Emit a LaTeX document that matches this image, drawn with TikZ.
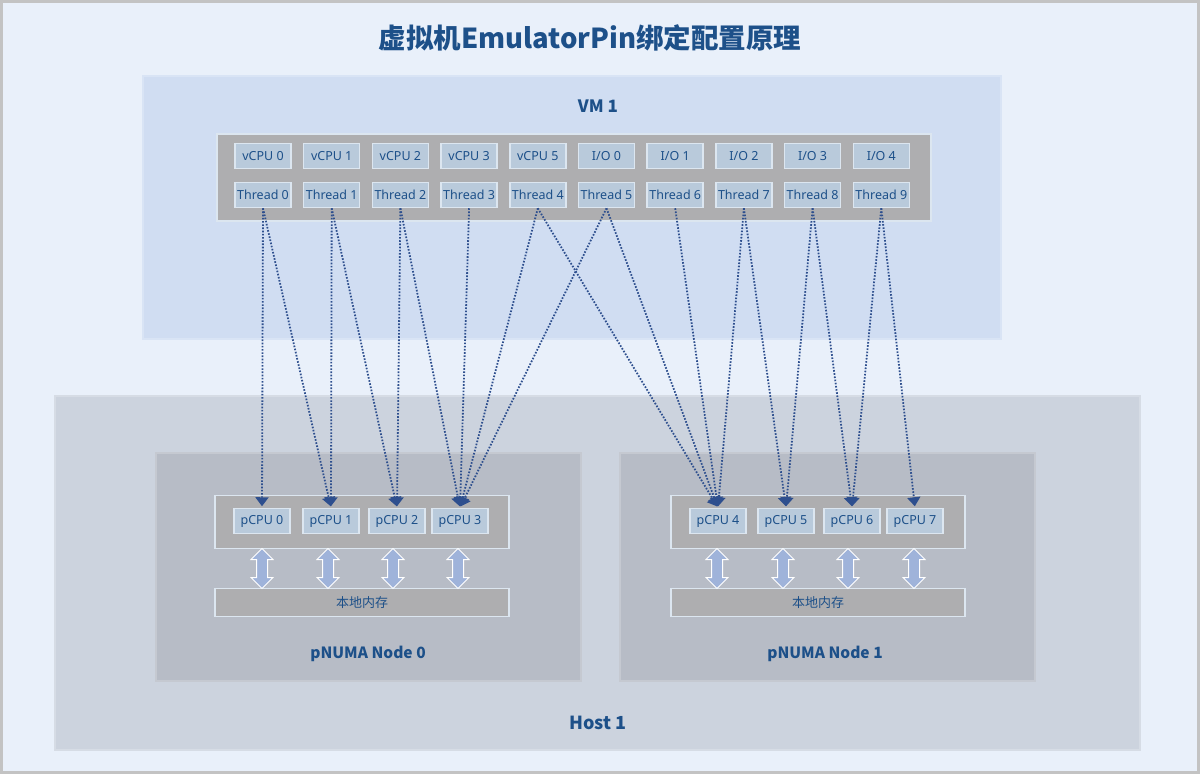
\documentclass[tikz,border=0pt]{standalone}
\usepackage{fontspec}
\setmainfont{Noto Sans}
\newfontfamily\cjk{Noto Sans CJK SC}
\usetikzlibrary{arrows.meta,shapes.arrows}
\definecolor{pagebg}{HTML}{E9F0FA}
\definecolor{framegray}{HTML}{C3C3C3}
\definecolor{vmfill}{HTML}{D0DDF2}
\definecolor{hostfill}{HTML}{CCD3DE}
\definecolor{numafill}{HTML}{B7BCC6}
\definecolor{barfill}{HTML}{AEAEB0}
\definecolor{cellfill}{HTML}{B9CADB}
\definecolor{cellline}{HTML}{DCE6F0}
\definecolor{labelblue}{HTML}{1D5089}
\definecolor{pinblue}{HTML}{2E4F8E}
\definecolor{memarrow}{HTML}{9FB3DA}

\begin{document}
\begin{tikzpicture}
[x=1pt,y=-1pt,
 every node/.style={inner sep=0pt,text=labelblue},
 panel/.style={draw=#1!80!white,line width=1.5pt,fill=#1},
 bar/.style={draw=cellline,line width=1.5pt,fill=barfill,font=\fontsize{13}{15}\selectfont},
 cell/.style={draw=cellline,line width=1.5pt,fill=cellfill,minimum width=56pt,minimum height=25pt,
   font=\fontsize{12.5}{14}\selectfont},
 heading/.style={font=\cjk\bfseries\fontsize{#1}{20}\selectfont},
 pin/.style={pinblue,line width=1.8pt,dash pattern=on 1.6pt off 1.6pt,
   -{Triangle[length=9pt,width=13pt]},shorten >=1.5pt},
 memlink/.style={double arrow,rotate=90,fill=memarrow,draw=white,line width=1pt,inner sep=5pt,
   minimum height=40pt,minimum width=21pt,double arrow head extend=5.5pt}]

\node[fill=framegray,minimum width=1200pt,minimum height=774pt] (frame) at (600,387) {};
\node[fill=pagebg,minimum width=1194pt,minimum height=768pt] (page) at (600,387) {};
\useasboundingbox (0,0) rectangle (1200,774);
\node[heading=27.5] (title) at (590,38) {虚拟机EmulatorPin绑定配置原理};

% guest side
\node[panel=vmfill,minimum width=858pt,minimum height=263pt] (vm) at (572,207.5) {};
\node[heading=17] (vmlabel) at (598,106) {VM 1};
\node[bar,minimum width=714pt,minimum height=87pt] (vcpubar) at (574,177.5) {};
\foreach \lab [count=\i from 0] in {vCPU 0,vCPU 1,vCPU 2,vCPU 3,vCPU 5,I/O 0,I/O 1,I/O 2,I/O 3,I/O 4}
  \node[cell] (v\i) at (263+68.7*\i,156) {\lab};
\foreach \i in {0,...,9}
  \node[cell] (t\i) at (263+68.7*\i,195) {Thread \i};

% host side
\node[panel=hostfill,minimum width=1085pt,minimum height=354pt] (host) at (597.5,573) {};
\node[heading=18] (hostlabel) at (598,723) {Host 1};
\node[panel=numafill,minimum width=425pt,minimum height=228pt] (numa0) at (368.5,567) {};
\node[panel=numafill,minimum width=415pt,minimum height=228pt] (numa1) at (827.5,567) {};
\node[heading=15.5] (numa0label) at (368,654) {pNUMA Node 0};
\node[heading=15.5] (numa1label) at (825,654) {pNUMA Node 1};
\node[bar,minimum width=294pt,minimum height=53pt] (cpubar0) at (362,522) {};
\node[bar,minimum width=294pt,minimum height=53pt] (cpubar1) at (818,522) {};
\node[bar,minimum width=294pt,minimum height=28pt] (mem0) at (362,602.5) {\cjk 本地内存};
\node[bar,minimum width=294pt,minimum height=28pt] (mem1) at (818,602.5) {\cjk 本地内存};
\foreach \px [count=\i from 0] in {262,331,397,460,718,786,852,915}
  \node[cell] (p\i) at (\px,521) {pCPU \i};
\foreach \ax [count=\i from 0] in {262,328,393,458,717,783,848,914}
  \node[memlink] (m\i) at (\ax,568.5) {};

% thread to pCPU binding
\foreach \a/\b in {0/0,0/1,1/1,1/2,2/2,2/3,3/3,4/3,5/3,4/4,5/4,6/4,7/4,7/5,8/5,8/6,9/6,9/7}
  \draw[pin] (t\a.south) -- (p\b.north);
\end{tikzpicture}
\end{document}
